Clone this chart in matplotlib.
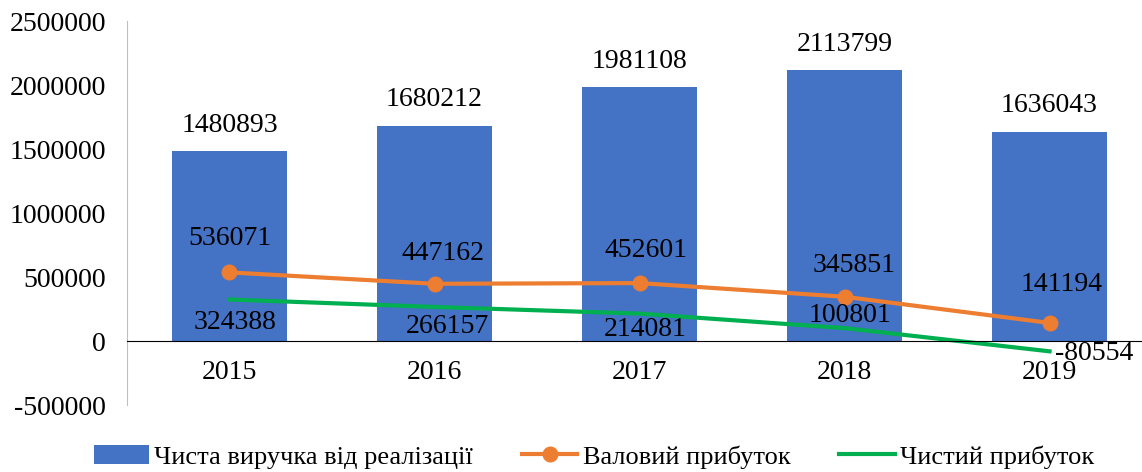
import numpy as np
import matplotlib.pyplot as plt

plt.rcParams['font.family'] = ['Liberation Serif', 'DejaVu Serif']

years = ['2015', '2016', '2017', '2018', '2019']
revenue = [1480893, 1680212, 1981108, 2113799, 1636043]
gross_profit = [536071, 447162, 452601, 345851, 141194]
net_profit = [324388, 266157, 214081, 100801, -80554]

blue = '#4472C4'
orange = '#ED7D31'
green = '#00B050'

# label offsets in points
gross_off = [(0, 24.5), (6, 21.6), (5, 23.8), (7, 22.3), (9, 27.4)]
net_off = [(4, -16.6), (9, -14.4), (4, -11.5), (4, 9.4)]

fig = plt.figure(figsize=(11.42, 4.72), dpi=100)
ax = fig.add_axes([0.1112, 0.1419, 0.8976, 0.8136])

x = np.arange(len(years))
bars = ax.bar(x, revenue, width=0.56, color=blue, label='Чиста виручка від реалізації', zorder=1)
l1, = ax.plot(x, gross_profit, color=orange, lw=3, marker='o', ms=10.5, label='Валовий прибуток', zorder=3)
l2, = ax.plot(x, net_profit, color=green, lw=3, label='Чистий прибуток', zorder=2)

fs = 20
for i, v in enumerate(revenue):
    ax.annotate(str(v), (x[i], v), xytext=(0, 19), textcoords='offset points',
                ha='center', va='center', fontsize=fs)
for i, v in enumerate(gross_profit):
    ax.annotate(str(v), (x[i], v), xytext=gross_off[i], textcoords='offset points',
                ha='center', va='center', fontsize=fs)
for i, v in enumerate(net_profit[:-1]):
    ax.annotate(str(v), (x[i], v), xytext=net_off[i], textcoords='offset points',
                ha='center', va='center', fontsize=fs)
ax.annotate(str(net_profit[-1]), (x[-1], net_profit[-1]), xytext=(3.6, -1.4), textcoords='offset points',
            ha='left', va='center', fontsize=fs)

ax.set_xlim(-0.5, 4.5)
ax.set_ylim(-500000, 2500000)
yt = np.arange(-500000, 2500001, 500000)
ax.set_yticks(yt)
ax.set_yticklabels([str(t) for t in yt])
ax.set_xticks(x)
ax.set_xticklabels(years)

ax.spines['top'].set_visible(False)
ax.spines['right'].set_visible(False)
ax.spines['left'].set_color('#BFBFBF')
ax.spines['bottom'].set_position(('data', 0))
ax.spines['bottom'].set_color('black')
ax.tick_params(axis='both', length=0, labelsize=fs)
ax.tick_params(axis='x', pad=14)
ax.tick_params(axis='y', pad=15)

fig.legend(handles=[bars, l1, l2], loc='center', bbox_to_anchor=(0.52, 0.032), ncol=3, frameon=False,
           fontsize=19, handlelength=2.1, columnspacing=1.85, handletextpad=0.2)

fig.savefig('out.png', dpi=100)
